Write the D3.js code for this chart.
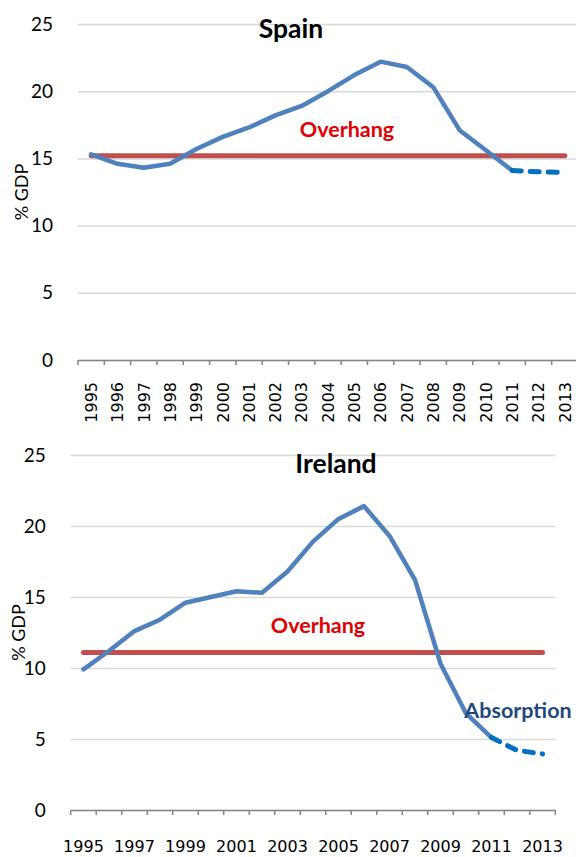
<!DOCTYPE html>
<html>
<head>
<meta charset="utf-8">
<script src="https://cdn.jsdelivr.net/npm/d3@7"></script>
<style>
  body { margin: 0; background: #fff; }
  svg { display: block; }
</style>
</head>
<body>
<div id="chart"></div>
<script>
// data (% of GDP, construction investment)
var years = ["1995","1996","1997","1998","1999","2000","2001","2002","2003","2004",
             "2005","2006","2007","2008","2009","2010","2011","2012","2013"];
var spainValues   = [15.3,14.6,14.3,14.6,15.7,16.6,17.3,18.2,18.9,20.0,21.2,22.2,21.8,20.3,17.1,15.6,14.1,14.0,13.95];
var irelandValues = [9.9,11.2,12.6,13.4,14.6,15.0,15.4,15.3,16.8,18.9,20.5,21.4,19.3,16.2,10.3,6.8,5.1,4.2,3.95];
var spainOverhang = 15.2;
var irelandOverhang = 11.1;
var yTicks = [0, 5, 10, 15, 20, 25];
var lastActual = "2011";   // after this the line is a forecast (dashed)

var width = 576, height = 857;

var svg = d3.select("#chart").append("svg")
  .attr("width", width)
  .attr("height", height);

var panels = [
  { name: "Spain", values: spainValues, overhang: spainOverhang,
    left: 78, right: 578, top: 24, bottom: 360, rotateLabels: true,
    titleX: 291, titleY: 38, overX: 347, overY: 137, yLabelX: 22 },
  { name: "Ireland", values: irelandValues, overhang: irelandOverhang,
    left: 70.7, right: 555.3, top: 455, bottom: 810, rotateLabels: false,
    titleX: 336, titleY: 473, overX: 318, overY: 633, yLabelX: 19,
    note: "Absorption", noteX: 518, noteY: 718 }
];

panels.forEach(drawPanel);

function drawPanel(p) {
  var g = svg.append("g");

  var x = d3.scaleBand().domain(years).range([p.left, p.right]);
  var y = d3.scaleLinear().domain([0, 25]).range([p.bottom, p.top]);
  var cx = function(d) { return x(d) + x.bandwidth() / 2; };

  // gridlines + y tick labels
  g.append("g")
    .attr("transform", "translate(" + p.left + ",0)")
    .call(d3.axisLeft(y).tickValues(yTicks).tickSize(-(p.right - p.left)).tickPadding(25))
    .call(function(a) { a.select(".domain").remove(); })
    .call(function(a) {
      a.selectAll("line").attr("stroke", "#d9d9d9").attr("stroke-width", 1.5);
    })
    .call(function(a) {
      a.selectAll("text")
        .attr("font-family", "Lato, sans-serif")
        .attr("font-size", 19)
        .attr("fill", "#000");
    });

  // x axis
  var xAxis = d3.axisBottom(x).tickSize(0).tickSizeOuter(0);
  if (p.rotateLabels) {
    xAxis.tickPadding(0);
  } else {
    xAxis.tickValues(years.filter(function(d, i) { return i % 2 === 0; })).tickPadding(30.5);
  }
  var xa = g.append("g")
    .attr("transform", "translate(0," + p.bottom + ")")
    .call(xAxis);
  xa.select(".domain").attr("stroke", "#868686").attr("stroke-width", 1.5);
  xa.selectAll("text")
    .attr("font-family", "'DejaVu Sans', sans-serif")
    .attr("font-size", 16)
    .attr("fill", "#000");
  if (p.rotateLabels) {
    xa.selectAll("text")
      .attr("transform", "rotate(-90)")
      .attr("x", -22)
      .attr("y", 0)
      .attr("dy", "0.36em")
      .attr("text-anchor", "end");
  }

  // tick marks on the category boundaries
  var bounds = years.map(function(d) { return x(d); }).concat([x.range()[1]]);
  g.append("g").selectAll("line")
    .data(bounds)
    .enter().append("line")
    .attr("x1", function(d) { return d; })
    .attr("x2", function(d) { return d; })
    .attr("y1", p.bottom)
    .attr("y2", p.bottom + 5)
    .attr("stroke", "#868686")
    .attr("stroke-width", 1.5);

  // y axis label
  g.append("text")
    .attr("transform", "translate(" + p.yLabelX + "," + ((p.top + p.bottom) / 2) + ") rotate(-90)")
    .attr("dy", "0.36em")
    .attr("text-anchor", "middle")
    .attr("font-family", "Lato, sans-serif")
    .attr("font-size", 18)
    .attr("fill", "#000")
    .text("% GDP");

  // overhang level
  g.append("line")
    .attr("x1", cx(years[0]))
    .attr("x2", cx(years[years.length - 1]))
    .attr("y1", y(p.overhang))
    .attr("y2", y(p.overhang))
    .attr("stroke", "#c0504d")
    .attr("stroke-width", 5)
    .attr("stroke-linecap", "round");

  var data = years.map(function(d, i) { return { year: d, value: p.values[i] }; });
  var cut = years.indexOf(lastActual);

  var line = d3.line()
    .x(function(d) { return cx(d.year); })
    .y(function(d) { return y(d.value); });

  g.append("path")
    .datum(data.slice(0, cut + 1))
    .attr("fill", "none")
    .attr("stroke", "#4f81bd")
    .attr("stroke-width", 4.5)
    .attr("stroke-linejoin", "round")
    .attr("stroke-linecap", "round")
    .attr("d", line);

  g.append("path")
    .datum(data.slice(cut))
    .attr("fill", "none")
    .attr("stroke", "#0070c0")
    .attr("stroke-width", 5)
    .attr("stroke-linecap", "round")
    .attr("stroke-dasharray", "9,9")
    .attr("d", line);

  // texts
  g.append("text")
    .attr("x", p.titleX).attr("y", p.titleY)
    .attr("text-anchor", "middle")
    .attr("font-family", "Lato, sans-serif")
    .attr("font-weight", "bold")
    .attr("font-size", 26.5)
    .attr("fill", "#000")
    .text(p.name);

  g.append("text")
    .attr("x", p.overX).attr("y", p.overY)
    .attr("text-anchor", "middle")
    .attr("font-family", "Lato, sans-serif")
    .attr("font-weight", "bold")
    .attr("font-size", 21.5)
    .attr("fill", "#e00000")
    .text("Overhang");

  if (p.note) {
    g.append("text")
      .attr("x", p.noteX).attr("y", p.noteY)
      .attr("text-anchor", "middle")
      .attr("font-family", "Lato, sans-serif")
      .attr("font-weight", "bold")
      .attr("font-size", 21.5)
      .attr("fill", "#1f497d")
      .text(p.note);
  }
}
</script>
</body>
</html>
